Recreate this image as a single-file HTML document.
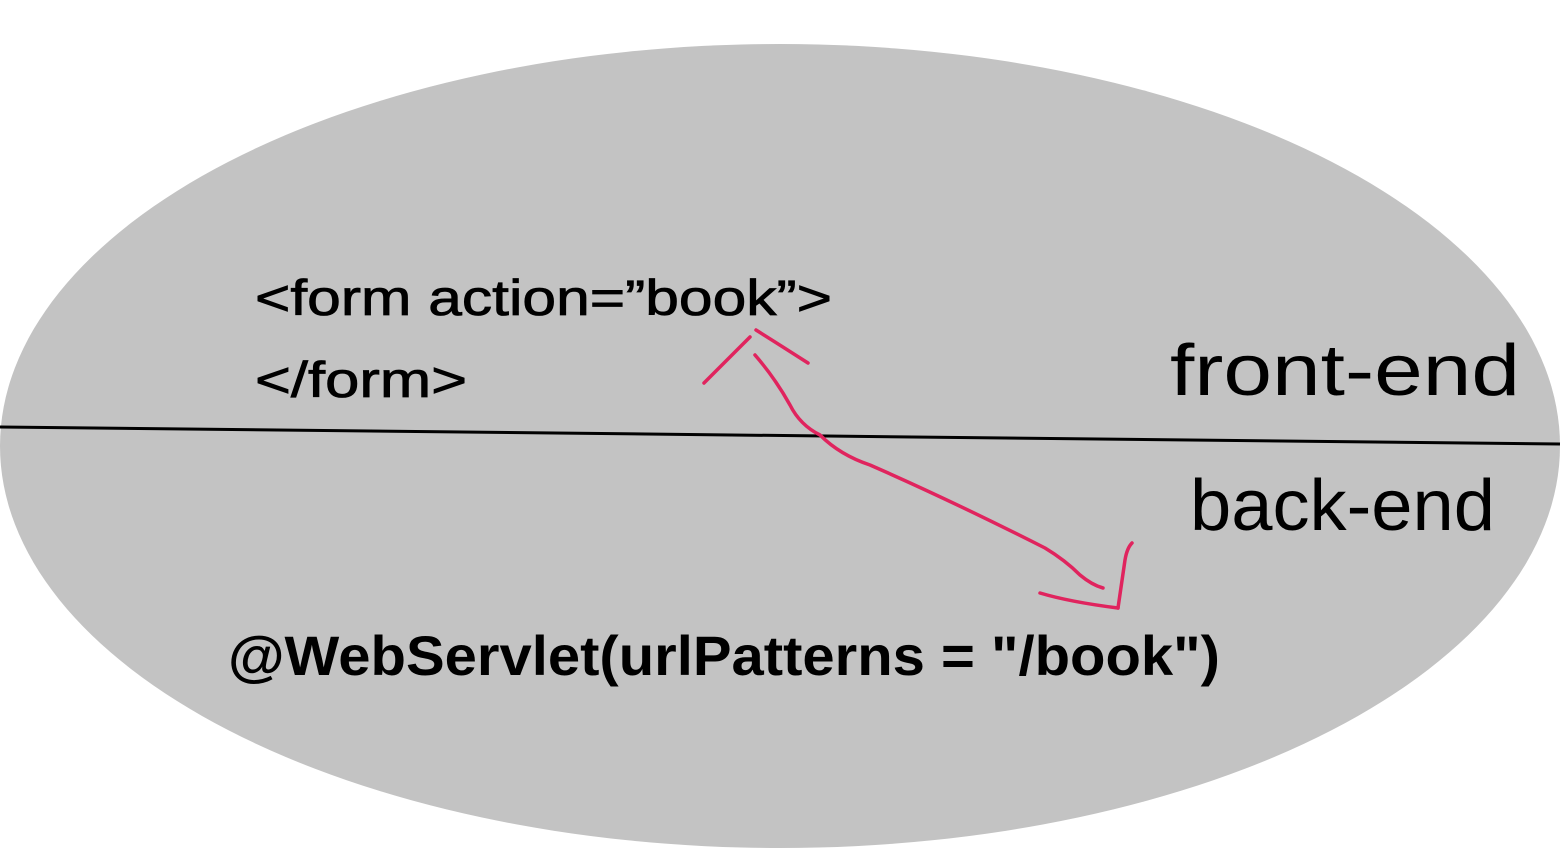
<!DOCTYPE html>
<html><head><meta charset="utf-8"><style>
html,body{margin:0;padding:0;background:#fff;width:1562px;height:849px;overflow:hidden}
</style></head><body>
<svg width="1562" height="849" viewBox="0 0 1562 849" xmlns="http://www.w3.org/2000/svg">
<ellipse cx="780" cy="446" rx="780" ry="402" fill="#c3c3c3"/>
<line x1="0" y1="427" x2="1560" y2="444" stroke="#000" stroke-width="3"/>
<g font-family="Liberation Sans, sans-serif" fill="#000">
<text x="255" y="315" font-size="50" textLength="577" lengthAdjust="spacingAndGlyphs" stroke="#000" stroke-width="0.8">&lt;form action=”book”&gt;</text>
<text x="255" y="397" font-size="50" textLength="212" lengthAdjust="spacingAndGlyphs" stroke="#000" stroke-width="0.8">&lt;/form&gt;</text>
<text x="228" y="675" font-size="56" font-weight="bold" textLength="992" lengthAdjust="spacingAndGlyphs">@WebServlet(urlPatterns = "/book")</text>
<text x="1170" y="395" font-size="72" textLength="350" lengthAdjust="spacingAndGlyphs">front-end</text>
<text x="1190" y="530" font-size="72" textLength="305" lengthAdjust="spacingAndGlyphs">back-end</text>
</g>
<g stroke="#e0245e" stroke-width="3.5" fill="none" stroke-linecap="round">
<path d="M704 383 L750 337"/>
<path d="M756 330 Q780 345 808 363"/>
<path d="M755 355 Q775 378 790 405 Q800 425 820 435 Q840 455 870 465 Q950 500 1045 548 Q1065 560 1080 575 Q1092 585 1103 588"/>
<path d="M1040 593 Q1070 602 1118 608"/>
<path d="M1118 608 Q1122 580 1125 560 Q1127 548 1132 543"/>
</g>
</svg>
</body></html>
